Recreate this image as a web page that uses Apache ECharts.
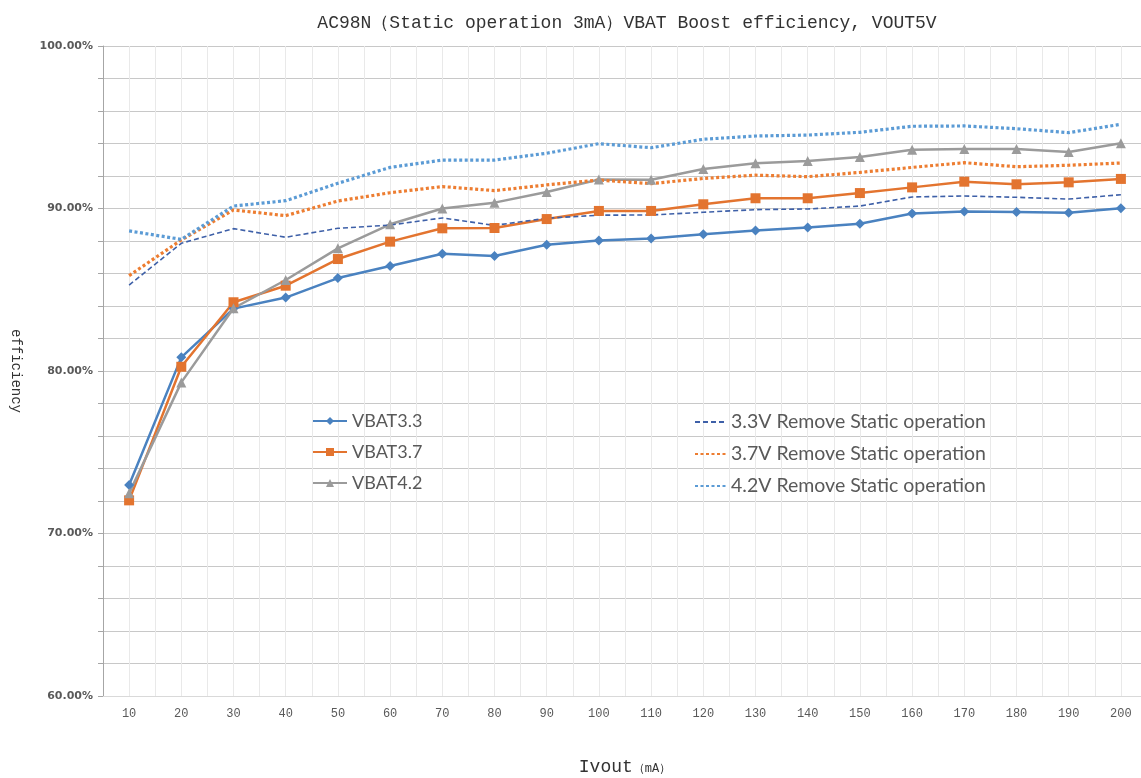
<!DOCTYPE html>
<html>
<head>
<meta charset="utf-8">
<script src="https://cdn.jsdelivr.net/npm/echarts@6/dist/echarts.min.js"></script>
<style>
  html, body { margin: 0; padding: 0; background: #fff; }
  #chart { width: 1141px; height: 778px; }
</style>
</head>
<body>
<div id="chart"></div>
<script>
// load current in mA
const currents = [10, 20, 30, 40, 50, 60, 70, 80, 90, 100, 110, 120, 130, 140, 150, 160, 170, 180, 190, 200];

// efficiency in %
const vbat33 = [72.98, 80.84, 83.84, 84.52, 85.72, 86.46, 87.22, 87.08, 87.77, 88.03, 88.15, 88.41, 88.64, 88.83, 89.06, 89.69, 89.81, 89.79, 89.74, 90.01];
const vbat37 = [72.04, 80.26, 84.23, 85.25, 86.89, 87.96, 88.78, 88.8, 89.35, 89.85, 89.85, 90.26, 90.63, 90.63, 90.95, 91.3, 91.65, 91.49, 91.61, 91.82];
const vbat42 = [72.47, 79.3, 83.86, 85.6, 87.55, 89.03, 90.0, 90.36, 91.02, 91.78, 91.77, 92.43, 92.78, 92.92, 93.17, 93.62, 93.66, 93.66, 93.48, 94.01];
const remove33 = [85.29, 87.86, 88.76, 88.23, 88.78, 88.98, 89.42, 88.96, 89.4, 89.59, 89.6, 89.77, 89.93, 89.97, 90.15, 90.71, 90.77, 90.69, 90.58, 90.85];
const remove37 = [85.87, 88.06, 89.91, 89.56, 90.46, 90.97, 91.35, 91.1, 91.45, 91.75, 91.53, 91.85, 92.05, 91.96, 92.22, 92.53, 92.82, 92.57, 92.66, 92.8];
const remove42 = [88.62, 88.1, 90.15, 90.48, 91.55, 92.53, 92.98, 92.98, 93.4, 93.99, 93.74, 94.26, 94.46, 94.52, 94.69, 95.06, 95.08, 94.91, 94.67, 95.18];

const pairs = vals => currents.map((c, i) => [c, vals[i]]);

const chart = echarts.init(document.getElementById('chart'));

chart.setOption({
    animation: false,
    backgroundColor: '#fff',
    title: {
        text: 'AC98N\uFF08Static operation 3mA\uFF09VBAT Boost efficiency, VOUT5V',
        left: 622,
        textAlign: 'center',
        top: 9,
        textStyle: { fontFamily: 'Liberation Mono', fontSize: 18, fontWeight: 'normal', color: '#333' }
    },
    grid: { left: 103, top: 46, bottom: 82, right: -6, outerBoundsMode: 'none' },
    legend: [
        {
            data: ['VBAT3.3', 'VBAT3.7', 'VBAT4.2'],
            orient: 'vertical',
            left: 307,
            top: 407,
            itemWidth: 34,
            itemHeight: 10,
            itemGap: 13,
            textStyle: { color: '#595959', fontFamily: 'Lato', fontSize: 18 }
        },
        {
            data: ['3.3V Remove Static operation', '3.7V Remove Static operation', '4.2V Remove Static operation'],
            orient: 'vertical',
            left: 689,
            top: 407,
            itemWidth: 31,
            itemHeight: 10,
            itemGap: 12,
            itemStyle: { opacity: 0 },
            textStyle: { color: '#595959', fontFamily: 'Lato', fontSize: 19.5 }
        }
    ],
    xAxis: {
        type: 'value',
        min: 5,
        max: 205,
        interval: 5,
        name: '{a|Ivout}{b|\uFF08mA\uFF09}',
        nameLocation: 'middle',
        nameGap: 62,
        nameTextStyle: {
            rich: {
                a: { fontFamily: 'Liberation Mono', fontSize: 18, color: '#333' },
                b: { fontFamily: 'Liberation Mono', fontSize: 12, color: '#333', padding: [4, 0, 0, 0] }
            }
        },
        axisLine: { lineStyle: { color: '#d9d9d9' } },
        axisTick: { show: false },
        axisLabel: {
            margin: 12,
            fontFamily: 'Liberation Mono',
            fontSize: 12,
            color: '#595959',
            formatter: v => (v % 10 === 0 ? String(v) : '')
        },
        splitLine: { show: true, lineStyle: { color: '#e9e9e9', width: 1 } }
    },
    yAxis: {
        type: 'value',
        min: 60,
        max: 100,
        interval: 2,
        name: 'efficiency',
        nameLocation: 'middle',
        nameRotate: -90,
        nameGap: 80,
        nameTextStyle: { fontFamily: 'Liberation Mono', fontSize: 14, color: '#333' },
        axisLine: { show: true, lineStyle: { color: '#a6a6a6' } },
        axisTick: { show: true, length: 5, lineStyle: { color: '#a6a6a6' } },
        axisLabel: {
            margin: 10,
            fontFamily: 'DejaVu Sans',
            fontWeight: 'bold',
            fontSize: 11,
            color: '#595959',
            formatter: v => (v % 10 === 0 ? v.toFixed(2) + '%' : '')
        },
        splitLine: { show: true, lineStyle: { color: '#c8c8c8', width: 1.2 } }
    },
    series: [
        {
            name: 'VBAT3.3', type: 'line', data: pairs(vbat33),
            symbol: 'diamond', symbolSize: 10,
            itemStyle: { color: '#4a82c0' },
            lineStyle: { width: 2.5, color: '#4a82c0' }
        },
        {
            name: 'VBAT3.7', type: 'line', data: pairs(vbat37),
            symbol: 'rect', symbolSize: 10,
            itemStyle: { color: '#e3742f' },
            lineStyle: { width: 2.5, color: '#e3742f' }
        },
        {
            name: 'VBAT4.2', type: 'line', data: pairs(vbat42),
            symbol: 'triangle', symbolSize: 10,
            itemStyle: { color: '#9b9b9b' },
            lineStyle: { width: 2.5, color: '#9b9b9b' }
        },
        {
            name: '3.3V Remove Static operation', type: 'line', data: pairs(remove33),
            symbol: 'none',
            itemStyle: { color: '#3e60a8' },
            lineStyle: { width: 1.6, color: '#3e60a8', type: [5, 3] }
        },
        {
            name: '3.7V Remove Static operation', type: 'line', data: pairs(remove37),
            symbol: 'none',
            itemStyle: { color: '#ed7d31' },
            lineStyle: { width: 3.2, color: '#ed7d31', type: [3, 2.5] }
        },
        {
            name: '4.2V Remove Static operation', type: 'line', data: pairs(remove42),
            symbol: 'none',
            itemStyle: { color: '#5b9bd5' },
            lineStyle: { width: 3.2, color: '#5b9bd5', type: [3, 2.5] }
        }
    ]
});
</script>
</body>
</html>
